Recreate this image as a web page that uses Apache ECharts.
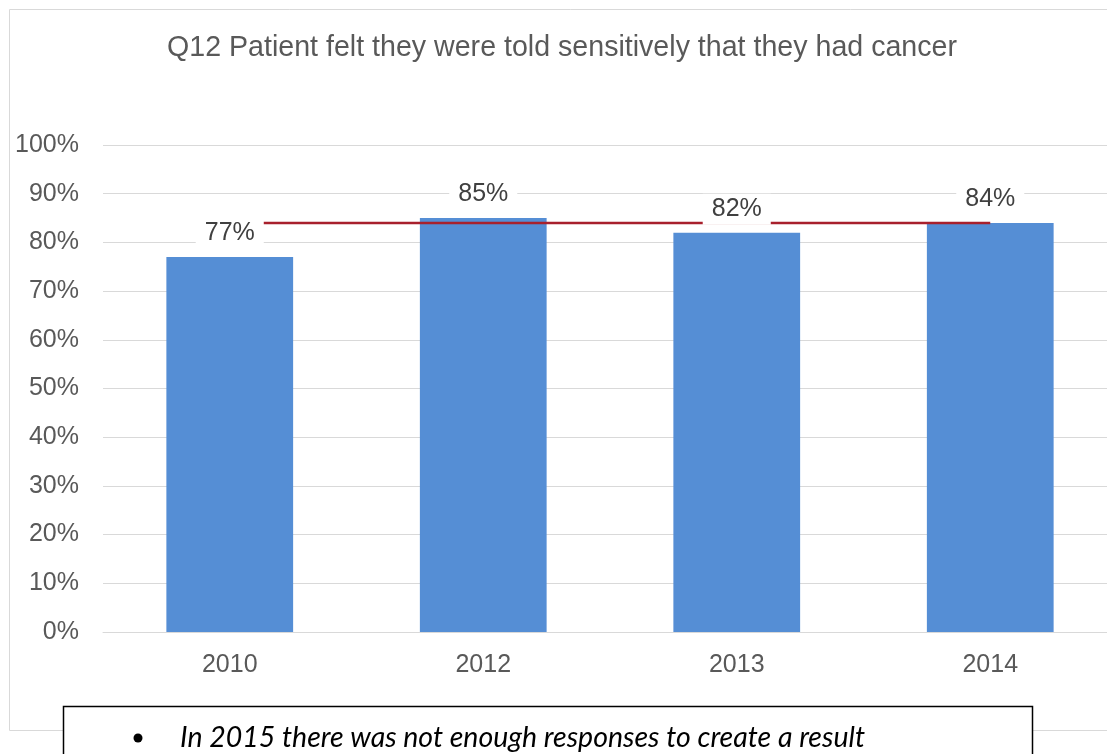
<!DOCTYPE html>
<html>
<head>
<meta charset="utf-8">
<style>
  html, body { margin: 0; padding: 0; background: #fff; overflow: hidden; }
  #chart { width: 1130px; height: 754px; }
</style>
<script src="https://cdn.jsdelivr.net/npm/echarts@6/dist/echarts.min.js"></script>
</head>
<body>
<div id="chart"></div>
<script>
  // survey years and results
  var years = ['2010', '2012', '2013', '2014'];
  var values = [77, 85, 82, 84];
  // red reference line
  var refValues = [84, 84, 84, 84];

  // chart is a bit wider than the window, the right edge is cut off like the original
  var chart = echarts.init(document.getElementById('chart'));

  var labelFont = 'Liberation Sans, Arial, sans-serif';

  var option = {
    animation: false,
    title: {
      text: 'Q12 Patient felt they were told sensitively that they had cancer',
      left: 557,
      textAlign: 'center',
      top: 29,
      textStyle: {
        fontFamily: labelFont,
        fontSize: 28.6,
        fontWeight: 'normal',
        color: '#595959',
      },
    },
    grid: {
      left: 103,
      top: 145,
      right: 13,
      bottom: 122,
    },
    xAxis: {
      type: 'category',
      data: years,
      axisLine: { lineStyle: { color: '#d9d9d9', width: 1 } },
      axisTick: { show: false },
      axisLabel: {
        margin: 21,
        fontFamily: labelFont,
        fontSize: 25,
        color: '#595959',
      },
    },
    yAxis: {
      type: 'value',
      min: 0,
      max: 100,
      interval: 10,
      axisLine: { show: false },
      axisTick: { show: false },
      splitLine: { lineStyle: { color: '#d9d9d9', width: 1 } },
      axisLabel: {
        margin: 24,
        formatter: '{value}%',
        fontFamily: labelFont,
        fontSize: 25,
        color: '#595959',
      },
    },
    series: [
      {
        type: 'bar',
        data: values,
        barWidth: '50%',
        z: 2,
        itemStyle: { color: '#558ED5' },
      },
      {
        type: 'line',
        data: refValues,
        z: 3,
        symbol: 'none',
        lineStyle: { color: '#A8202C', width: 2.5 },
      },
      {
        // label layer so the labels sit above the red line
        type: 'bar',
        data: values,
        barWidth: '50%',
        barGap: '-100%',
        z: 4,
        silent: true,
        itemStyle: { color: 'rgba(0,0,0,0)' },
        label: {
          show: true,
          position: 'top',
          distance: 8,
          formatter: '{c}%',
          fontFamily: labelFont,
          fontSize: 25,
          color: '#404040',
          backgroundColor: '#fff',
          padding: [3, 9],
        },
      },
    ],
    graphic: [
      {
        type: 'rect',
        z: -10,
        shape: { x: 9.5, y: 9.5, width: 1130, height: 721 },
        style: { fill: 'none', stroke: '#d9d9d9', lineWidth: 1 },
      },
      {
        type: 'rect',
        z: 10,
        shape: { x: 63.5, y: 706.5, width: 969, height: 80 },
        style: { fill: '#fff', stroke: '#000', lineWidth: 1.5 },
      },
      {
        type: 'circle',
        z: 11,
        shape: { cx: 138, cy: 738, r: 4.5 },
        style: { fill: '#000' },
      },
      {
        type: 'text',
        z: 11,
        x: 180,
        y: 738,
        style: {
          text: 'In 2015 there was not enough responses to create a result',
          fontFamily: 'Lato, sans-serif',
          fontStyle: 'italic',
          fontSize: 28.5,
          fill: '#000',
          verticalAlign: 'middle',
        },
      },
    ],
  };

  chart.setOption(option);
</script>
</body>
</html>
